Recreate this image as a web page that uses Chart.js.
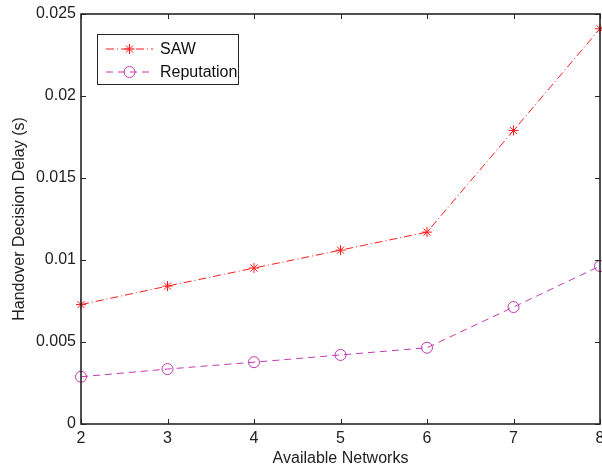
<!DOCTYPE html>
<html>
<head>
<meta charset="utf-8">
<script src="https://cdn.jsdelivr.net/npm/chart.js@4.4.1/dist/chart.umd.min.js"></script>
<style>
  html, body { margin: 0; padding: 0; background: #fff; overflow: hidden; }
  canvas { display: block; }
</style>
</head>
<body>
<canvas id="canvas" width="602" height="468"></canvas>
<script>
// values
var networks = [2, 3, 4, 5, 6, 7, 8];
var sawDelay = [0.00728, 0.00841, 0.00951, 0.0106, 0.0117, 0.0179, 0.0241];
var reputationDelay = [0.00288, 0.00335, 0.00377, 0.00421, 0.00465, 0.00713, 0.00963];
var yTicks = [0, 0.005, 0.01, 0.015, 0.02, 0.025];
var xTicks = [2, 3, 4, 5, 6, 7, 8];

var FONT = '"Liberation Sans", Arial, Helvetica, sans-serif';
var AXIS = '#262626';
var sawColor = '#ff1a1a';
var repColor = '#c03ab0';

function toPoints(xs, ys) {
    return xs.map(function (x, i) { return { x: x, y: ys[i] }; });
}

// matlab style box with inward ticks on all four sides
var boxPlugin = {
    id: 'box',
    afterDatasetsDraw: function (chart) {
        var ctx = chart.ctx, a = chart.chartArea;
        var xs = chart.scales.x, ys = chart.scales.y;
        var len = 5;
        ctx.save();
        ctx.strokeStyle = AXIS;
        ctx.lineWidth = 1;
        ctx.beginPath();
        xTicks.forEach(function (t) {
            var px = Math.round(xs.getPixelForValue(t)) + 0.5;
            ctx.moveTo(px, a.bottom); ctx.lineTo(px, a.bottom - len);
            ctx.moveTo(px, a.top); ctx.lineTo(px, a.top + len);
        });
        yTicks.forEach(function (t) {
            var py = Math.round(ys.getPixelForValue(t)) + 0.5;
            ctx.moveTo(a.left, py); ctx.lineTo(a.left + len, py);
            ctx.moveTo(a.right, py); ctx.lineTo(a.right - len, py);
        });
        ctx.stroke();
        ctx.lineWidth = 1.6;
        ctx.strokeRect(a.left, a.top, a.right - a.left, a.bottom - a.top);
        ctx.restore();
    }
};

// legend box in the upper left corner of the axes
var legendPlugin = {
    id: 'boxLegend',
    afterDraw: function (chart) {
        var ctx = chart.ctx;
        var x0 = 97, y0 = 34, w = 141, h = 50;
        ctx.save();
        ctx.fillStyle = '#fff';
        ctx.fillRect(x0, y0, w, h);
        ctx.strokeStyle = AXIS;
        ctx.lineWidth = 1;
        ctx.strokeRect(x0 + 0.5, y0 + 0.5, w, h);
        chart.data.datasets.forEach(function (ds, i) {
            var y = y0 + 15 + i * 23;
            ctx.strokeStyle = ds.borderColor;
            ctx.lineWidth = 1;
            ctx.setLineDash(ds.borderDash);
            ctx.beginPath();
            ctx.moveTo(106, y);
            ctx.lineTo(153, y);
            ctx.stroke();
            ctx.setLineDash([]);
            ctx.fillStyle = ds.backgroundColor;
            Chart.helpers.drawPoint(ctx, {
                pointStyle: ds.pointStyle,
                radius: ds.pointRadius,
                borderWidth: 1,
                rotation: 0
            }, 129.5, y);
            ctx.fillStyle = '#111';
            ctx.font = '16px ' + FONT;
            ctx.textBaseline = 'middle';
            ctx.fillText(ds.label, 160, y + 1);
        });
        ctx.restore();
    }
};

var config = {
    type: 'line',
    data: {
        datasets: [{
            label: 'SAW',
            data: toPoints(networks, sawDelay),
            borderColor: sawColor,
            backgroundColor: sawColor,
            borderWidth: 1,
            borderDash: [8, 3, 1, 3],
            pointStyle: 'star',
            pointRadius: 5,
            pointBorderWidth: 1,
            clip: false
        }, {
            label: 'Reputation',
            data: toPoints(networks, reputationDelay),
            borderColor: repColor,
            backgroundColor: 'rgba(0,0,0,0)',
            borderWidth: 1,
            borderDash: [7, 5],
            pointStyle: 'circle',
            pointRadius: 5.5,
            pointBorderWidth: 1,
            clip: false
        }]
    },
    options: {
        responsive: false,
        animation: false,
        events: [],
        // no auto padding for the markers, the plot runs to the right edge
        layout: { autoPadding: false, padding: { left: 0, right: 2, top: 14, bottom: 0 } },
        plugins: {
            legend: { display: false },
            tooltip: { enabled: false }
        },
        scales: {
            x: {
                type: 'linear',
                min: 2,
                max: 8,
                afterBuildTicks: function (s) { s.ticks = xTicks.map(function (v) { return { value: v }; }); },
                afterFit: function (s) {
                    // let the last label hang over the edge like the original
                    s.height = 44;
                    s.paddingLeft = 0;
                    s.paddingRight = 0;
                },
                grid: { display: false, drawTicks: false },
                border: { display: false },
                ticks: {
                    color: '#222',
                    padding: 5,
                    maxRotation: 0,
                    font: { family: FONT, size: 16 }
                },
                title: {
                    display: true,
                    text: 'Available Networks',
                    color: '#222',
                    padding: { top: 0, bottom: 0 },
                    font: { family: FONT, size: 16 }
                }
            },
            y: {
                type: 'linear',
                min: 0,
                max: 0.025,
                afterBuildTicks: function (s) { s.ticks = yTicks.map(function (v) { return { value: v }; }); },
                afterFit: function (s) { s.width = 81; s.paddingTop = 0; s.paddingBottom = 0; },
                grid: { display: false, drawTicks: false },
                border: { display: false },
                ticks: {
                    color: '#222',
                    padding: 5,
                    font: { family: FONT, size: 16 },
                    callback: function (v) { return String(Number(v.toFixed(3))); }
                },
                title: {
                    display: true,
                    text: 'Handover Decision Delay (s)',
                    color: '#222',
                    padding: { top: 10, bottom: 0 },
                    font: { family: FONT, size: 16 }
                }
            }
        }
    },
    plugins: [boxPlugin, legendPlugin]
};

window.myChart = new Chart(document.getElementById('canvas'), config);
</script>
</body>
</html>
